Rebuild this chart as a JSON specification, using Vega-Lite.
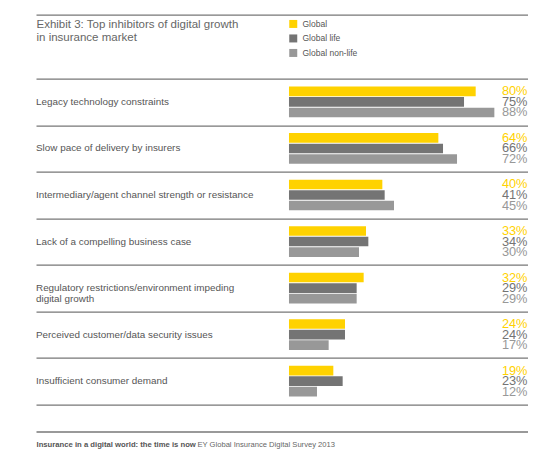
{
  "$schema": "https://vega.github.io/schema/vega-lite/v6.json",
  "width": 491.5,
  "height": 416.8,
  "autosize": {"type": "none"},
  "padding": {"left": 36, "top": 14.7, "right": 27.5, "bottom": 34.5},
  "background": "white",
  "config": {"view": {"stroke": null}},
  "title": {
    "text": "EY Global Insurance Digital Survey 2013",
    "orient": "bottom",
    "anchor": "start",
    "frame": "group",
    "offset": -1.5,
    "dx": 161.5,
    "baseline": "alphabetic",
    "font": "Liberation Sans",
    "fontSize": 7.6,
    "fontWeight": "normal",
    "color": "#666666"
  },
  "data": {
    "values": [
      {"category": "Legacy technology constraints", "series": "Global", "value": 0.80},
      {"category": "Legacy technology constraints", "series": "Global life", "value": 0.75},
      {"category": "Legacy technology constraints", "series": "Global non-life", "value": 0.88},
      {"category": "Slow pace of delivery by insurers", "series": "Global", "value": 0.64},
      {"category": "Slow pace of delivery by insurers", "series": "Global life", "value": 0.66},
      {"category": "Slow pace of delivery by insurers", "series": "Global non-life", "value": 0.72},
      {"category": "Intermediary/agent channel strength or resistance", "series": "Global", "value": 0.40},
      {"category": "Intermediary/agent channel strength or resistance", "series": "Global life", "value": 0.41},
      {"category": "Intermediary/agent channel strength or resistance", "series": "Global non-life", "value": 0.45},
      {"category": "Lack of a compelling business case", "series": "Global", "value": 0.33},
      {"category": "Lack of a compelling business case", "series": "Global life", "value": 0.34},
      {"category": "Lack of a compelling business case", "series": "Global non-life", "value": 0.30},
      {"category": "Regulatory restrictions/environment impeding\ndigital growth", "series": "Global", "value": 0.32},
      {"category": "Regulatory restrictions/environment impeding\ndigital growth", "series": "Global life", "value": 0.29},
      {"category": "Regulatory restrictions/environment impeding\ndigital growth", "series": "Global non-life", "value": 0.29},
      {"category": "Perceived customer/data security issues", "series": "Global", "value": 0.24},
      {"category": "Perceived customer/data security issues", "series": "Global life", "value": 0.24},
      {"category": "Perceived customer/data security issues", "series": "Global non-life", "value": 0.17},
      {"category": "Insufficient consumer demand", "series": "Global", "value": 0.19},
      {"category": "Insufficient consumer demand", "series": "Global life", "value": 0.23},
      {"category": "Insufficient consumer demand", "series": "Global non-life", "value": 0.12}
    ]
  },
  "encoding": {
    "y": {
      "field": "category",
      "type": "nominal",
      "sort": [
        "Legacy technology constraints",
        "Slow pace of delivery by insurers",
        "Intermediary/agent channel strength or resistance",
        "Lack of a compelling business case",
        "Regulatory restrictions/environment impeding\ndigital growth",
        "Perceived customer/data security issues",
        "Insufficient consumer demand"
      ],
      "scale": {"paddingInner": 0, "paddingOuter": 0.98, "align": 0.702},
      "axis": {
        "title": null,
        "labels": false,
        "ticks": false,
        "domain": false,
        "grid": true,
        "tickBand": "extent",
        "gridColor": "#777777",
        "gridWidth": 1.3,
        "gridOpacity": 1
      }
    }
  },
  "layer": [
    {
      "mark": {"type": "bar"},
      "encoding": {
        "x": {
          "field": "value",
          "type": "quantitative",
          "scale": {"domain": [-1.084, 1.022], "nice": false, "zero": false},
          "axis": {
            "orient": "bottom",
            "labels": false,
            "ticks": false,
            "grid": false,
            "domainColor": "#777777",
            "domainWidth": 1.3,
            "title": "Insurance in a digital world: the time is now",
            "titleAnchor": "start",
            "titleAlign": "left",
            "titleBaseline": "alphabetic",
            "titleX": 0,
            "titleY": 15,
            "titleFont": "Liberation Sans",
            "titleFontSize": 7.7,
            "titleFontWeight": "bold",
            "titleColor": "#555555"
          }
        },
        "yOffset": {
          "field": "series",
          "sort": ["Global", "Global life", "Global non-life"],
          "scale": {"paddingInner": 0.08, "paddingOuter": 0.75}
        },
        "color": {
          "field": "series",
          "type": "nominal",
          "sort": ["Global", "Global life", "Global non-life"],
          "scale": {
            "domain": ["Global", "Global life", "Global non-life"],
            "range": ["#FFD200", "#747474", "#989898"]
          },
          "legend": {
            "orient": "none",
            "legendX": 253,
            "legendY": 5,
            "title": null,
            "padding": 0,
            "direction": "vertical",
            "symbolType": "square",
            "symbolSize": 64,
            "symbolStrokeWidth": 0,
            "symbolOpacity": 1,
            "rowPadding": 5.5,
            "labelOffset": 5,
            "labelFont": "Liberation Sans",
            "labelFontSize": 8.5,
            "labelColor": "#555555"
          }
        }
      }
    },
    {
      "mark": {
        "type": "text",
        "align": "right",
        "baseline": "middle",
        "font": "Liberation Sans",
        "fontSize": 12.8
      },
      "encoding": {
        "x": {"datum": 1.022, "type": "quantitative", "axis": null},
        "yOffset": {
          "field": "series",
          "sort": ["Global", "Global life", "Global non-life"],
          "scale": {"paddingInner": 0.08, "paddingOuter": 0.75}
        },
        "text": {"field": "value", "type": "quantitative", "format": ".0%"},
        "color": {"field": "series", "type": "nominal", "sort": ["Global", "Global life", "Global non-life"]}
      }
    },
    {
      "transform": [{"filter": "datum.series == 'Global'"}],
      "mark": {
        "type": "text",
        "align": "left",
        "baseline": "middle",
        "lineBreak": "\n",
        "lineHeight": 10.7,
        "font": "Liberation Sans",
        "fontSize": 9.9,
        "color": "#555555"
      },
      "encoding": {
        "x": {
          "datum": -1.084,
          "type": "quantitative",
          "axis": {
            "orient": "top",
            "labels": false,
            "ticks": false,
            "grid": false,
            "domainColor": "#777777",
            "domainWidth": 1.3,
            "title": ["Exhibit 3: Top inhibitors of digital growth", "in insurance market"],
            "titleAnchor": "start",
            "titleAlign": "left",
            "titleBaseline": "alphabetic",
            "titleX": 0,
            "titleY": 13,
            "titleLineHeight": 13.3,
            "titleFont": "Liberation Sans",
            "titleFontSize": 11.5,
            "titleFontWeight": "normal",
            "titleColor": "#666666"
          }
        },
        "text": {"field": "category"}
      }
    }
  ],
  "resolve": {"axis": {"x": "independent"}}
}
